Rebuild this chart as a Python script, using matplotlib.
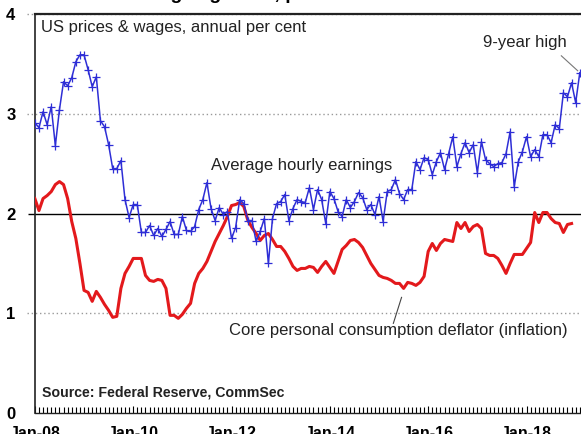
import numpy as np
import matplotlib
matplotlib.use("Agg")
import matplotlib.pyplot as plt
from matplotlib.ticker import FixedLocator

plt.rcParams['font.family'] = ['Liberation Sans', 'DejaVu Sans']

# monthly data, Jan-08 onwards
wages = [2.91, 2.86, 3.02, 2.89, 3.07, 2.68, 3.04, 3.32, 3.28, 3.36, 3.52, 3.59,
         3.59, 3.44, 3.27, 3.37, 2.93, 2.87, 2.69, 2.45, 2.45, 2.53, 2.14, 1.96,
         2.09, 2.09, 1.81, 1.81, 1.88, 1.78, 1.85, 1.77, 1.84, 1.92, 1.79, 1.79,
         1.97, 1.83, 1.82, 1.87, 2.04, 2.14, 2.31, 2.05, 1.93, 2.06, 1.99, 2.02,
         1.75, 1.86, 2.14, 2.10, 1.93, 1.93, 1.72, 1.82, 1.95, 1.50, 1.95, 2.10,
         2.12, 2.19, 1.93, 2.05, 2.14, 2.12, 2.11, 2.26, 2.04, 2.24, 2.14, 1.90,
         2.22, 2.15, 2.02, 1.97, 2.14, 2.06, 2.12, 2.21, 2.16, 2.04, 2.09, 1.99,
         2.17, 1.92, 2.22, 2.24, 2.34, 2.20, 2.14, 2.24, 2.24, 2.52, 2.44, 2.56,
         2.54, 2.39, 2.52, 2.61, 2.44, 2.60, 2.77, 2.47, 2.60, 2.71, 2.61, 2.69,
         2.41, 2.72, 2.54, 2.50, 2.47, 2.50, 2.51, 2.60, 2.82, 2.27, 2.52, 2.62,
         2.77, 2.57, 2.64, 2.57, 2.79, 2.79, 2.71, 2.89, 2.85, 3.21, 3.17, 3.31,
         3.11, 3.41]

core_pce = [2.15, 2.03, 2.15, 2.18, 2.22, 2.29, 2.32, 2.29, 2.15, 1.92, 1.75, 1.50,
            1.23, 1.21, 1.12, 1.22, 1.16, 1.09, 1.03, 0.96, 0.97, 1.25, 1.40, 1.47,
            1.55, 1.55, 1.55, 1.38, 1.33, 1.32, 1.34, 1.33, 1.25, 0.98, 0.98, 0.95,
            0.99, 1.05, 1.10, 1.30, 1.40, 1.45, 1.52, 1.62, 1.72, 1.80, 1.88, 1.97,
            2.08, 2.09, 2.11, 2.07, 1.93, 1.86, 1.80, 1.73, 1.78, 1.80, 1.74, 1.67,
            1.67, 1.62, 1.55, 1.47, 1.43, 1.45, 1.45, 1.47, 1.46, 1.41, 1.47, 1.52,
            1.46, 1.40, 1.52, 1.64, 1.68, 1.73, 1.74, 1.71, 1.66, 1.58, 1.50, 1.44,
            1.38, 1.36, 1.35, 1.33, 1.30, 1.30, 1.25, 1.31, 1.30, 1.28, 1.31, 1.37,
            1.62, 1.70, 1.63, 1.70, 1.74, 1.73, 1.72, 1.91, 1.85, 1.91, 1.82, 1.87,
            1.89, 1.85, 1.60, 1.58, 1.58, 1.55, 1.48, 1.40, 1.50, 1.59, 1.59, 1.59,
            1.65, 1.71, 2.01, 1.91, 2.01, 2.01, 1.95, 1.91, 1.90, 1.81, 1.89, 1.90]

x_labels = ["Jan-08", "Jan-10", "Jan-12", "Jan-14", "Jan-16", "Jan-18"]
x_label_pos = [0, 24, 48, 72, 96, 120]
y_ticks = [0, 1, 2, 3, 4]

fig = plt.figure(figsize=(5.81, 4.34), dpi=100)
ax = fig.add_axes([0.060, 0.048, 0.940, 0.920])

ax.plot(np.arange(len(core_pce)), core_pce, color="#e3191c", lw=2.2, zorder=3)
ax.plot(np.arange(len(wages)), wages, color="#2e2ed6", lw=1.1, marker="+",
        ms=6, mew=0.9, zorder=4)

ax.set_xlim(0, 133.3)
ax.set_ylim(0, 4)

# gridlines: dotted, solid at 2, stubs out past the axis
for y in y_ticks[1:]:
    if y == 2:
        ax.hlines(y, -0.012, 1, transform=ax.get_yaxis_transform(), color="black",
                  lw=1.0, clip_on=False, zorder=2)
    else:
        ax.hlines(y, -0.015, 1, transform=ax.get_yaxis_transform(), color="#999999",
                  lw=1.0, ls=(0, (1, 2)), clip_on=False, zorder=1)

ax.set_yticks(y_ticks)
ax.set_yticklabels([str(v) for v in y_ticks], fontsize=12, fontweight="bold")
ax.tick_params(axis="y", length=0, pad=14)

ax.set_xticks(x_label_pos)
ax.set_xticklabels(x_labels, fontsize=11.5, fontweight="bold")
ax.xaxis.set_minor_locator(FixedLocator(np.arange(0, 134)))
ax.tick_params(axis="x", which="major", direction="in", length=5, pad=9, width=0.8)
ax.tick_params(axis="x", which="minor", direction="in", length=4, width=0.8)

for s in ["top", "left", "bottom"]:
    ax.spines[s].set_color("#222222")
ax.spines["top"].set_linewidth(1.6)
ax.spines["left"].set_linewidth(1.2)
ax.spines["bottom"].set_linewidth(1.0)
ax.spines["right"].set_visible(False)

ax.text(1.6, 3.86, "US prices & wages, annual per cent", fontsize=12, va="center",
        color="#222222")
ax.text(43, 2.48, "Average hourly earnings", fontsize=12, va="center",
        color="#222222")
ax.text(47.5, 0.83, "Core personal consumption deflator (inflation)", fontsize=12,
        va="center", color="#222222")
ax.text(1.8, 0.21, "Source: Federal Reserve, CommSec", fontsize=10.2,
        fontweight="bold", va="center", color="#222222")
ax.text(109.5, 3.71, "9-year high", fontsize=12, va="center", color="#222222")
ax.plot([128.5, 132.5], [3.58, 3.43], color="#777777", lw=0.8)
ax.plot([89.5, 87.5], [1.16, 0.9], color="#444444", lw=0.8)

fig.text(0.52, 1.012, "Wages growth, prices on the move", fontsize=14,
         fontweight="bold", ha="center", va="center")

fig.savefig("out.png", dpi=100)
